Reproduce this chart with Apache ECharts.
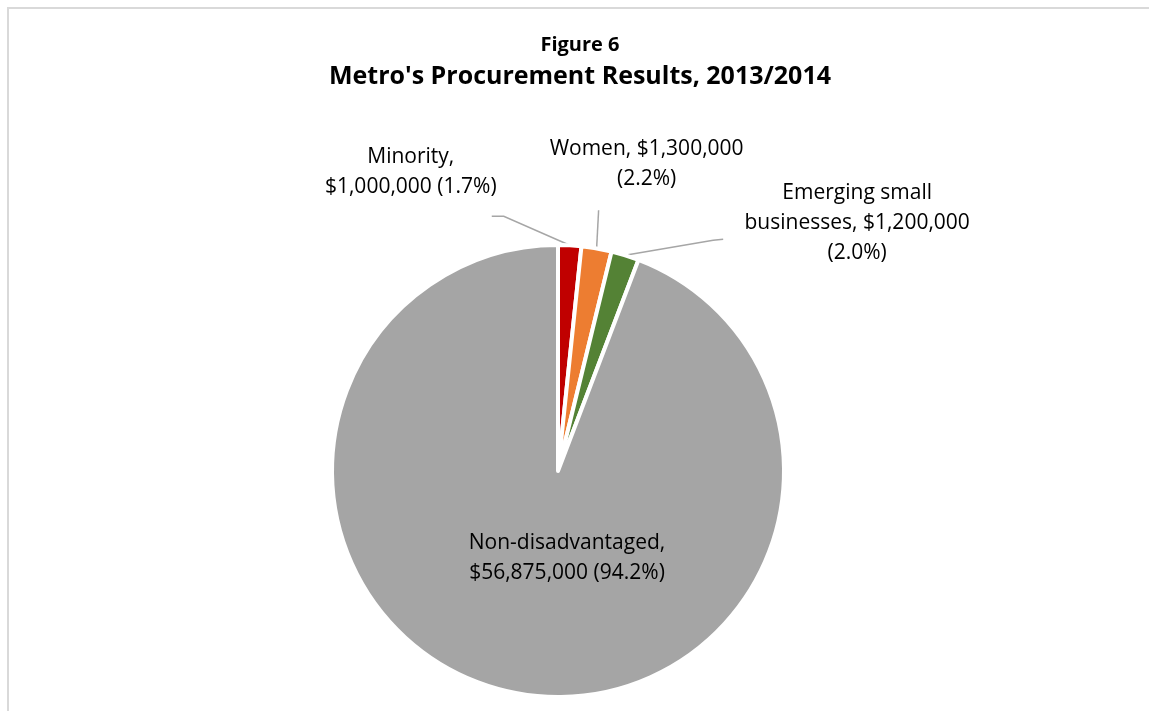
<!DOCTYPE html>
<html><head><meta charset="utf-8">
<script src="https://cdn.jsdelivr.net/npm/echarts@6.0.0/dist/echarts.min.js"></script>
<style>
html,body{margin:0;padding:0;width:1149px;height:711px;overflow:hidden;background:#fff;}
#frame{position:absolute;left:7px;top:7px;width:1300px;height:900px;border-left:2px solid #d9d9d9;border-top:2px solid #d9d9d9;}
#chart{position:absolute;left:9px;top:9px;width:1142px;height:702px;}
</style></head>
<body><div id="frame"></div><div id="chart"></div>
<script>
// ---- data ----
const categories = ['Minority', 'Women', 'Emerging small businesses', 'Non-disadvantaged'];
const values = [1000000, 1300000, 1200000, 56875000];
const percentLabels = ['1.7%', '2.2%', '2.0%', '94.2%'];
const titleLine1 = 'Figure 6';
const titleLine2 = "Metro's Procurement Results, 2013/2014";

// ---- styling ----
const colors = ['#C00000', '#ED7D31', '#548235', '#A5A5A5'];
const FONT = 'Open Sans';
// how each label text is broken into lines
function labelText(i) {
  const money = '$' + values[i].toLocaleString('en-US');
  const pct = '(' + percentLabels[i] + ')';
  if (i === 0) return categories[i] + ',\n' + money + ' ' + pct;
  if (i === 1) return categories[i] + ', ' + money + '\n' + pct;
  if (i === 2) return 'Emerging small\nbusinesses, ' + money + '\n' + pct;
  return categories[i] + ',\n' + money + ' ' + pct;
}
// label placement offsets relative to the leader-line start point on the slice edge
const labelPlace = [
  { lx: -159, ly: -73, a: [-66, -29], b: [-78, -29] },
  { lx: 50, ly: -84, a: [2, -38], b: [2, -38] },
  { lx: 232, ly: -32, a: [88, -15], b: [98, -16] },
  { dx: 30, dy: -27 }
];

const chart = echarts.init(document.getElementById('chart'), null, { renderer: 'canvas' });
const seriesData = categories.map((c, i) => ({
  name: c,
  value: values[i],
  itemStyle: { color: colors[i] },
  label: i === 3 ? { position: 'inside' } : { position: 'outside' },
  labelLine: { show: i !== 3 }
}));

chart.setOption({
  animation: false,
  backgroundColor: '#fff',
  title: [
    { text: titleLine1, left: 'center', top: 26, padding: 0,
      textStyle: { fontFamily: FONT, fontSize: 20, fontWeight: 'bold', color: '#000' } },
    { text: titleLine2, left: 'center', top: 55, padding: 0,
      textStyle: { fontFamily: FONT, fontSize: 25, fontWeight: 'bold', color: '#000' } }
  ],
  series: [{
    type: 'pie',
    center: [549, 462],
    radius: [0, 226],
    startAngle: 90,
    clockwise: true,
    avoidLabelOverlap: false,
    data: seriesData,
    itemStyle: { borderColor: '#fff', borderWidth: 4 },
    label: {
      formatter: p => labelText(p.dataIndex),
      fontFamily: FONT, fontSize: 21, lineHeight: 30, color: '#000', align: 'center'
    },
    labelLine: { show: true, length: 20, length2: 10, lineStyle: { color: '#a6a6a6', width: 1.5 } },
    labelLayout: function (p) {
      const o = labelPlace[p.dataIndex];
      if (p.dataIndex === 3 || !p.labelLinePoints) {
        return { dx: o.dx || 0, dy: o.dy || 0 };
      }
      const p0 = p.labelLinePoints[0];
      return {
        x: p0[0] + o.lx, y: p0[1] + o.ly, align: 'center', verticalAlign: 'middle',
        labelLinePoints: [p0, [p0[0] + o.a[0], p0[1] + o.a[1]], [p0[0] + o.b[0], p0[1] + o.b[1]]]
      };
    }
  }]
});
</script>
</body></html>
